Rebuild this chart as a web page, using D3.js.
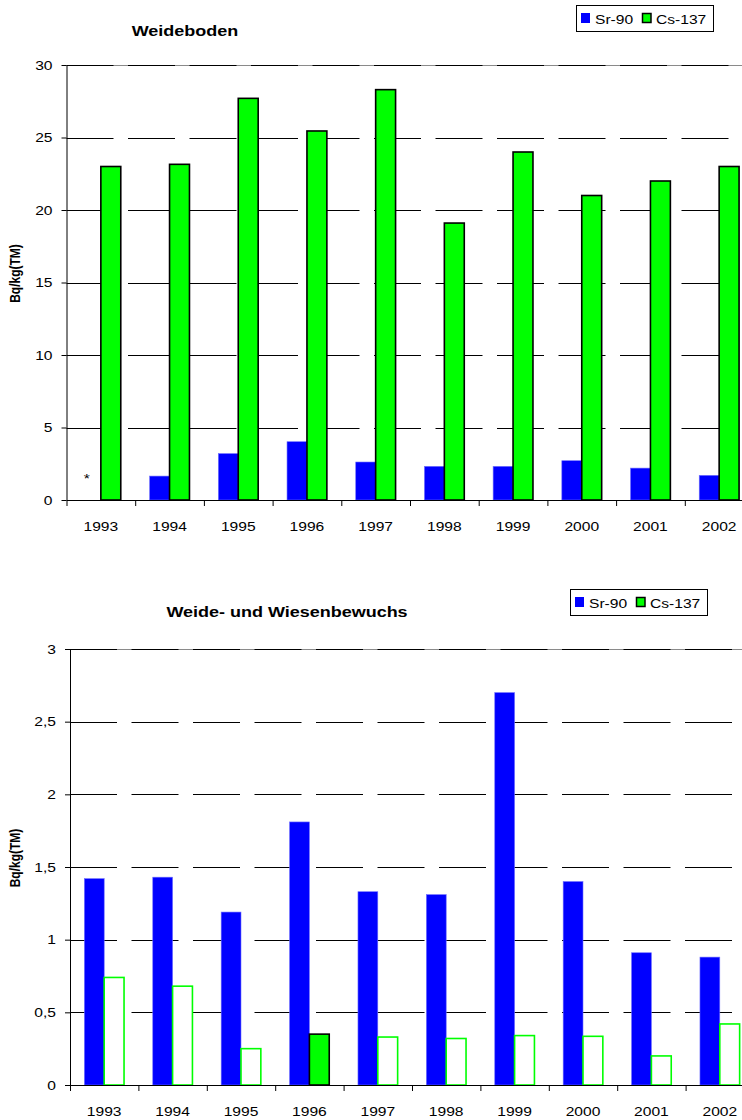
<!DOCTYPE html>
<html>
<head>
<meta charset="utf-8">
<script src="https://cdn.jsdelivr.net/npm/d3@7"></script>
<style>
    body { margin: 0; background: #fff; }
    svg { display: block; }
    text { font-family: "Liberation Sans", Arial, sans-serif; fill: #000; }
</style>
</head>
<body>
<svg id="chart" width="742" height="1120"></svg>
<script>
// values
const years = ['1993', '1994', '1995', '1996', '1997', '1998', '1999', '2000', '2001', '2002']
const seriesNames = ['Sr-90', 'Cs-137']

const soilSr90 = [null, 1.65, 3.2, 4.02, 2.62, 2.32, 2.32, 2.71, 2.2, 1.7]
const soilCs137 = [23.0, 23.15, 27.7, 25.45, 28.3, 19.1, 24.0, 21.0, 22.0, 23.0]
const soilTicks = [0, 5, 10, 15, 20, 25, 30]

const plantSr90 = [1.42, 1.43, 1.19, 1.81, 1.33, 1.31, 2.70, 1.40, 0.91, 0.88]
const plantCs137 = [0.74, 0.68, 0.25, 0.35, 0.33, 0.32, 0.34, 0.335, 0.20, 0.42]
const plantTicks = [0, 0.5, 1, 1.5, 2, 2.5, 3]

const SX = 1.2   // the original picture is stretched sideways a bit
const svg = d3.select('#chart')

const germanNum = d => String(d).replace('.', ',')

const stretchText = (sel) => {
    sel.each(function() {
        const t = d3.select(this)
        const x = +t.attr('x') || 0
        t.attr('x', x / SX).attr('transform', `scale(${SX},1)`)
    })
}

const addLabel = (g, txt, x, y, opts = {}) => {
    g.append('text')
        .text(txt)
        .attr('transform', `translate(${x},${y}) scale(${SX},1)` + (opts.rotate ? ` rotate(${opts.rotate})` : ''))
        .attr('text-anchor', opts.anchor || 'start')
        .style('font-size', (opts.size || 13) + 'px')
        .style('font-weight', opts.bold ? 'bold' : 'normal')
}

const drawPanel = (cfg) => {
    const g = svg.append('g')

    const x = d3.scaleBand().domain(years).range([cfg.x0, cfg.x1])
    const sub = d3.scaleBand().domain(seriesNames)
        .range([x.bandwidth() * 0.21, x.bandwidth() * 0.79])
    const y = d3.scaleLinear().domain([0, d3.max(cfg.ticks)]).range([cfg.yBottom, cfg.yTop])
    const edges = d3.scaleLinear().domain([0, years.length]).range([cfg.x0, cfg.x1])

    // gridlines
    const top = y(d3.max(cfg.ticks))
    g.append('line')
        .attr('x1', cfg.x0).attr('x2', cfg.x1)
        .attr('y1', top + 0.5).attr('y2', top + 0.5)
        .style('stroke', '#8a8a8a')
    g.selectAll('.grid')
        .data(cfg.ticks.filter(d => d > 0))
        .join('line')
        .attr('class', 'grid')
        .attr('x1', cfg.x0).attr('x2', cfg.x1)
        .attr('y1', d => Math.round(y(d)) + 0.5)
        .attr('y2', d => Math.round(y(d)) + 0.5)
        .style('stroke', '#000')
        .style('stroke-dasharray', '47,14.5')

    // Sr-90 bars
    g.selectAll('.sr')
        .data(years.map((yr, i) => ({ yr, v: cfg.sr[i] })).filter(d => d.v != null))
        .join('rect')
        .attr('class', 'sr')
        .attr('x', d => x(d.yr) + sub('Sr-90'))
        .attr('y', d => y(d.v))
        .attr('width', sub.bandwidth())
        .attr('height', d => y(0) - y(d.v))
        .attr('fill', '#0000ff')
        .style('stroke', '#6f6fff')
        .style('stroke-width', 0.6)

    // Cs-137 bars
    g.selectAll('.cs')
        .data(years.map((yr, i) => ({ yr, v: cfg.cs[i] })))
        .join('rect')
        .attr('class', 'cs')
        .attr('x', d => x(d.yr) + sub('Cs-137'))
        .attr('y', d => y(d.v))
        .attr('width', sub.bandwidth())
        .attr('height', d => y(0) - y(d.v))
        .attr('fill', d => cfg.hollow && d.yr !== cfg.filledYear ? '#fff' : '#00ff00')
        .style('stroke', d => cfg.hollow && d.yr !== cfg.filledYear ? '#00ff00' : '#000')
        .style('stroke-width', 1.6)

    // missing value marker
    if (cfg.sr[0] == null) {
        addLabel(g, '*', x(years[0]) + sub('Sr-90') + sub.bandwidth() / 2 - 4, y(1.2), { anchor: 'middle' })
    }

    // y axis
    const yAxis = d3.axisLeft(y)
        .tickValues(cfg.ticks)
        .tickSize(5)
        .tickSizeOuter(0)
        .tickPadding(9)
        .tickFormat(germanNum)
    g.append('g')
        .attr('transform', `translate(${cfg.x0},0)`)
        .call(yAxis)
        .call(a => a.selectAll('text').style('font-size', '13px').call(stretchText))
        .call(a => a.selectAll('line, path').style('stroke', '#000'))

    // x axis: ticks between categories, labels centred
    g.append('g')
        .attr('transform', `translate(0,${cfg.yBottom})`)
        .call(d3.axisBottom(edges).tickValues(d3.range(years.length + 1)).tickSize(6).tickSizeOuter(0).tickFormat(''))
        .call(a => a.selectAll('line, path').style('stroke', '#000'))

    g.append('g')
        .attr('transform', `translate(0,${cfg.yBottom})`)
        .call(d3.axisBottom(x).tickSize(0).tickPadding(22))
        .call(a => a.select('.domain').remove())
        .call(a => a.selectAll('text').style('font-size', '13px').call(stretchText))

    // axis title
    addLabel(g, 'Bq/kg(TM)', 20, (cfg.yTop + cfg.yBottom) / 2 - 9, { anchor: 'middle', bold: true, size: 12, rotate: -90 })

    // chart title
    addLabel(g, cfg.title, cfg.titleX, cfg.titleY, { anchor: 'middle', bold: true, size: 15 })

    // legend
    const lg = g.append('g').attr('transform', `translate(${cfg.legendX},${cfg.legendY})`)
    lg.append('rect')
        .attr('x', 0.5).attr('y', 0.5)
        .attr('width', 137).attr('height', 26)
        .attr('fill', '#fff')
        .style('stroke', '#000')
    lg.append('rect')
        .attr('x', 5).attr('y', 8).attr('width', 9).attr('height', 10)
        .attr('fill', '#0000ff')
    addLabel(lg, seriesNames[0], 19, 18.5)
    lg.append('rect')
        .attr('x', 66.5).attr('y', 8.5).attr('width', 8.5).attr('height', 9)
        .attr('fill', '#00ff00')
        .style('stroke', '#000')
        .style('stroke-width', 1.5)
    addLabel(lg, seriesNames[1], 80, 18.5)
}

drawPanel({
    title: 'Weideboden', titleX: 185, titleY: 36,
    legendX: 576, legendY: 5,
    x0: 66.5, x1: 753.5, yTop: 65, yBottom: 500,
    ticks: soilTicks,
    sr: soilSr90, cs: soilCs137
})

drawPanel({
    title: 'Weide- und Wiesenbewuchs', titleX: 287, titleY: 617,
    legendX: 570, legendY: 589,
    x0: 70, x1: 754, yTop: 649, yBottom: 1085,
    ticks: plantTicks,
    sr: plantSr90, cs: plantCs137,
    hollow: true, filledYear: '1996'
})
</script>
</body>
</html>
